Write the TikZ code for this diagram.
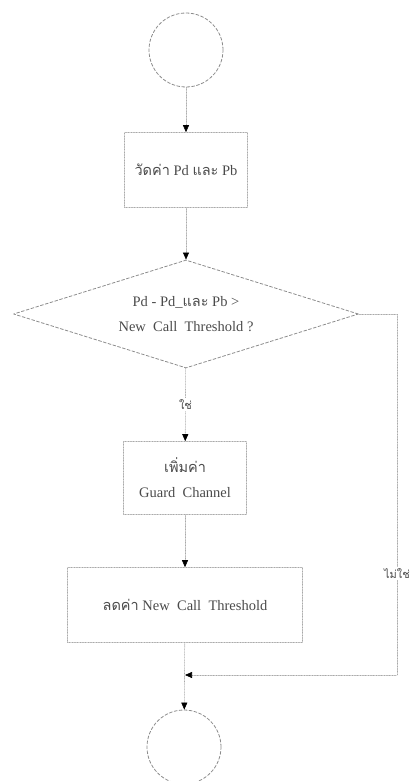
\documentclass[tikz,border=0pt]{standalone}
\usepackage{fontspec}
\setmainfont{Liberation Serif}
\newfontfamily\thaifont[Script=Thai]{Loma}
\newcommand{\thai}[1]{{\thaifont #1}}
\usetikzlibrary{arrows.meta,shapes.geometric}
\definecolor{scanline}{HTML}{A8A8A8}
\definecolor{scanedge}{HTML}{8C8C8C}
\definecolor{scanink}{HTML}{4A4A4A}

\tikzset{
  flow/.style={draw=scanline, line width=0.6pt, densely dotted,
               -{Triangle[length=7pt,width=6pt,color=black]}},
  procbox/.style={draw=scanline, densely dotted, line width=0.6pt,
                  text=scanink, align=center, inner sep=0pt},
  terminal/.style={circle, draw=scanedge, densely dashed, line width=0.8pt,
                   minimum size=74pt, inner sep=0pt},
  decision/.style={diamond, shape aspect=3.2, draw=scanedge, densely dashed,
                   line width=0.8pt, minimum width=345pt, minimum height=108pt,
                   inner sep=0pt, text=scanink, align=center},
  lbl/.style={fill=white, text=scanink, inner sep=1.5pt,
              font=\fontsize{11}{13}\selectfont}
}

\begin{document}
\begin{tikzpicture}[line cap=round, line join=round, x=1pt, y=-1pt,
                    font=\fontsize{14.5}{17}\selectfont]
  \useasboundingbox (0,0) rectangle (413,781);
  % start / end
  \node[terminal] (start) at (186,50) {};
  \node[terminal] (finish) at (184,747) {};
  % process steps
  \node[procbox, minimum width=123pt, minimum height=75pt] (measure) at (186,170)
       {\thai{วัดค่า} Pd \thai{และ} Pb};
  \node[decision] (check) at (186,314)
       {Pd - Pd\_\thai{และ} Pb >\\[8pt] New\ \ Call\ \ Threshold ?};
  \node[procbox, minimum width=123pt, minimum height=73pt] (grow) at (185,478)
       {\thai{เพิ่มค่า}\\[8pt] Guard\ \ Channel};
  \node[procbox, minimum width=235pt, minimum height=75pt] (lower) at (185,605)
       {\thai{ลดค่า} New\ \ Call\ \ Threshold};
  % loop back for the no branch
  \coordinate (noturn) at (397,314);
  \coordinate (nobend) at (397,675);
  \coordinate (merge) at (185,675);

  \draw[flow] (start) -- (measure);
  \draw[flow] (measure) -- (check);
  \draw[flow] (check) -- node[lbl] {\thai{ใช่}} (grow);
  \draw[flow] (grow) -- (lower);
  \draw[flow] (lower) -- (finish);
  \draw[flow] (check.east) -- (noturn) -- node[lbl, pos=0.72] {\thai{ไม่ใช่}} (nobend) -- (merge);
\end{tikzpicture}
\end{document}
